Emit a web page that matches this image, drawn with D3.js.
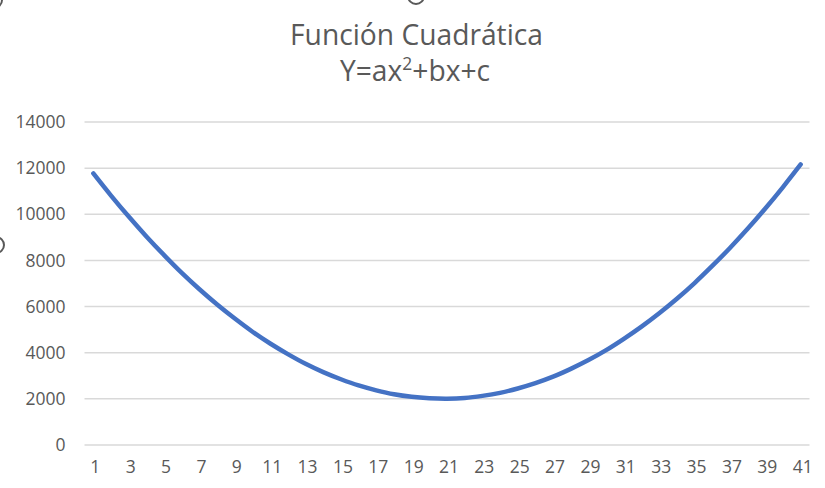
<!DOCTYPE html>
<html>
<head>
<meta charset="utf-8">
<script src="https://cdn.jsdelivr.net/npm/d3@7"></script>
<style>
  html, body { margin: 0; padding: 0; background: #fff; }
  svg { display: block; }
  text { font-family: "Open Sans", "Noto Sans", sans-serif; fill: #595959; }
</style>
</head>
<body>
<div id="chart"></div>
<script>
// categories on the x axis (1..41)
var categories = [1,2,3,4,5,6,7,8,9,10,11,12,13,14,15,16,17,18,19,20,
                  21,22,23,24,25,26,27,28,29,30,31,32,33,34,35,36,37,38,39,40,41];

// Y values
var values = [11770,10810,9900,9040,8230,7460,6750,6090,5480,4910,
              4400,3940,3520,3160,2850,2580,2370,2200,2090,2030,
              2010,2040,2130,2260,2450,2680,2960,3300,3680,4110,
              4600,5130,5710,6340,7020,7760,8540,9370,10250,11180,
              12160];

var yTicks = [0,2000,4000,6000,8000,10000,12000,14000];
var xTickLabels = [1,3,5,7,9,11,13,15,17,19,21,23,25,27,29,31,33,35,37,39,41];

var title = "Función Cuadrática";

var width = 825,
    height = 488;

var margin = {left: 84.5, right: 15.5, top: 122, bottom: 43};

var svg = d3.select("#chart").append("svg")
    .attr("width", width)
    .attr("height", height);

// selection handles of the chart frame (cut off at the edges)
svg.append("g")
    .selectAll("circle")
    .data([[416, -4], [-4, 245], [-6, 0]])
    .enter().append("circle")
    .attr("cx", function(d){return d[0];})
    .attr("cy", function(d){return d[1];})
    .attr("r", 8)
    .attr("fill", "#fff")
    .attr("stroke", "#595959")
    .attr("stroke-width", 2);

var x = d3.scaleBand()
    .domain(categories)
    .range([margin.left, width - margin.right]);

var y = d3.scaleLinear()
    .domain([0, 14000])
    .range([height - margin.bottom, margin.top]);

// gridlines
svg.append("g")
    .selectAll("line")
    .data(yTicks)
    .enter().append("line")
    .attr("x1", margin.left)
    .attr("x2", width - margin.right)
    .attr("y1", function(d){return y(d);})
    .attr("y2", function(d){return y(d);})
    .attr("stroke", "#d9d9d9")
    .attr("stroke-width", 1.5);

// y axis
var yAxis = svg.append("g")
    .attr("transform", "translate(" + (margin.left - 19) + ",0)")
    .call(d3.axisLeft(y).tickValues(yTicks).tickFormat(d3.format("d"))
        .tickSize(0).tickPadding(0));
yAxis.select(".domain").remove();
yAxis.selectAll("text")
    .style("font-size", "17.5px")
    .attr("fill", "#595959");

// x axis
var xAxis = svg.append("g")
    .attr("transform", "translate(0," + (height - margin.bottom) + ")")
    .call(d3.axisBottom(x).tickValues(xTickLabels).tickSize(0).tickPadding(16));
xAxis.select(".domain").remove();
xAxis.selectAll("text")
    .style("font-size", "17.5px")
    .attr("dx", 2)
    .attr("fill", "#595959");

// the curve
var line = d3.line()
    .x(function(d, i){return x(categories[i]) + x.bandwidth() / 2;})
    .y(function(d){return y(d);})
    .curve(d3.curveCatmullRom);

svg.append("path")
    .datum(values)
    .attr("d", line)
    .attr("fill", "none")
    .attr("stroke", "#4472C4")
    .attr("stroke-width", 4.5)
    .attr("stroke-linejoin", "round")
    .attr("stroke-linecap", "round");

// titles, sized to the widths in the picture
function fit(sel, target) {
    var w = sel.node().getComputedTextLength();
    var fs = parseFloat(sel.style("font-size"));
    sel.style("font-size", (fs * target / w) + "px");
    return fs * target / w;
}

var t1 = svg.append("text")
    .attr("x", 416.5)
    .attr("y", 45)
    .attr("text-anchor", "middle")
    .style("font-size", "26px")
    .text(title);
var fs1 = fit(t1, 253);

var t2 = svg.append("text")
    .attr("x", 415)
    .attr("y", 81)
    .attr("text-anchor", "middle")
    .style("font-size", fs1 + "px");
t2.append("tspan").text("Y=ax");
t2.append("tspan").attr("dy", -11).style("font-size", (fs1 * 0.62) + "px").text("2");
t2.append("tspan").attr("dy", 11).text("+bx+c");
</script>
</body>
</html>
